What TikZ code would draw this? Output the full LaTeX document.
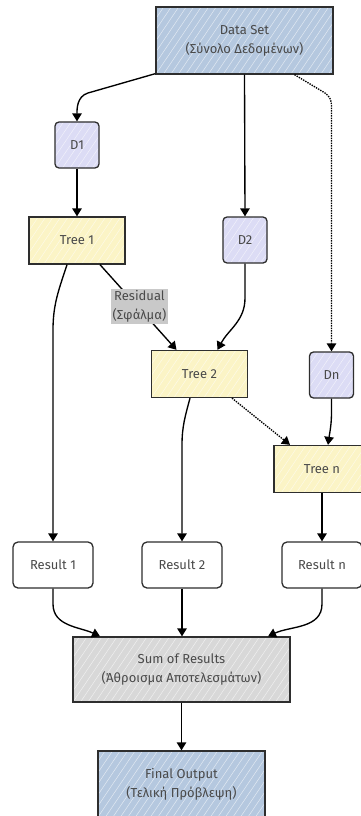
\documentclass[tikz,border=0pt]{standalone}
\usepackage{fontspec}
\setmainfont{Fira Sans}
\usetikzlibrary{arrows.meta}
\definecolor{ink}{HTML}{2E2E2E}
\definecolor{txt}{HTML}{4A4A4A}
\definecolor{steel}{HTML}{B5C8DF}
\definecolor{lav}{HTML}{DCDCF5}
\definecolor{butter}{HTML}{FBF4C6}
\definecolor{ash}{HTML}{D8D8D8}
\definecolor{tag}{HTML}{C9C9C9}
\tikzset{
  hatch/.style={path picture={
    \foreach \i in {-20,...,40}
      \draw[white,opacity=0.6,line width=0.5pt]
        ([xshift=\i*7.5pt]path picture bounding box.south west) -- ++(56:140pt);}},
  lbl/.style={font=\fontsize{13}{19}\selectfont},
  box/.style={draw=ink,line width=1.3pt,text=txt,align=center,inner sep=0pt,lbl,hatch},
  bigbox/.style={box,fill=steel},
  dbox/.style={box,fill=lav,rounded corners=4pt,minimum width=44pt,minimum height=46pt},
  treebox/.style={box,fill=butter,minimum width=96pt,minimum height=47pt},
  resbox/.style={box,fill=white,rounded corners=5pt,minimum width=80pt,minimum height=46pt},
  arr/.style={draw=black,line width=1.35pt,-{Triangle[length=8pt,width=9.5pt]}},
  dots/.style={dash pattern=on 1.4pt off 1.1pt},
}
\begin{document}
\begin{tikzpicture}[x=1pt,y=1pt]
\clip (0,0) rectangle (361,-816);
\fill[white] (0,0) rectangle (361,-816);

% top: the data set and its three samples
\node[bigbox,minimum width=177pt,minimum height=67pt] (ds) at (244.5,-40.5)
  {Data Set\\(Σύνολο Δεδομένων)};
\node[dbox] (d1) at (77,-145) {D1};
\node[dbox] (d2) at (245,-240) {D2};
\node[dbox] (dn) at (331.5,-375) {Dn};

% the chain of trees
\node[treebox] (t1) at (77,-240.5) {Tree 1};
\node[treebox] (t2) at (199.5,-374) {Tree 2};
\node[treebox] (tn) at (322,-469) {Tree n};

% per-tree results
\node[resbox] (r1) at (53,-565) {Result 1};
\node[resbox] (r2) at (182,-565) {Result 2};
\node[resbox] (rn) at (322,-565) {Result n};

% aggregation and output
\node[box,fill=ash,minimum width=217pt,minimum height=65pt] (sum) at (181.5,-669.5)
  {Sum of Results\\(Άθροισμα Αποτελεσμάτων)};
\node[bigbox,minimum width=167pt,minimum height=66pt] (out) at (181.5,-784)
  {Final Output\\(Τελική Πρόβλεψη)};

% sampling arrows
\draw[arr] ([yshift=1pt]ds.south west) -- (88,-93) to[out=197,in=90] (d1.north);
\draw[arr] (ds.south) -- (d2.north);
\draw[arr,dots] ([xshift=50pt]ds.south) -- (325,-93) to[out=-35,in=90] (331.5,-106) -- (dn.north);

\draw[arr] (d1.south) -- (t1.north);
\draw[arr] (d2.south) -- (245,-298) to[out=-90,in=62] ([xshift=18pt]t2.north);
\draw[arr] (dn.south) -- (331.5,-412) to[out=-90,in=82] ([xshift=6pt]tn.north);

% residual hand-off between trees
\draw[arr] ([xshift=23pt]t1.south) -- ([xshift=-23pt]t2.north);
\node[fill=tag,text=txt,align=center,inner sep=1.5pt,lbl] (res) at (139.5,-306.5)
  {Residual\\(Σφάλμα)};
\draw[arr,dots] ([xshift=32.5pt]t2.south) -- ([xshift=-32pt]tn.north);

% trees to results
\draw[arr] ([xshift=-10pt]t1.south) to[out=-108,in=90] (53,-330) -- (r1.north);
\draw[arr] ([xshift=-9.5pt]t2.south) to[out=-105,in=90] (182,-445) -- (r2.north);
\draw[arr] (tn.south) -- (rn.north);

% results into the sum
\draw[arr] (r1.south) -- (53,-604) to[out=-90,in=155] ([xshift=-81.5pt]sum.north);
\draw[arr] (r2.south) -- (r2.south |- sum.north);
\draw[arr] (rn.south) -- (322,-604) to[out=-90,in=25] ([xshift=86.5pt]sum.north);

\draw[arr] (sum.south) -- (out.north);
\end{tikzpicture}
\end{document}
